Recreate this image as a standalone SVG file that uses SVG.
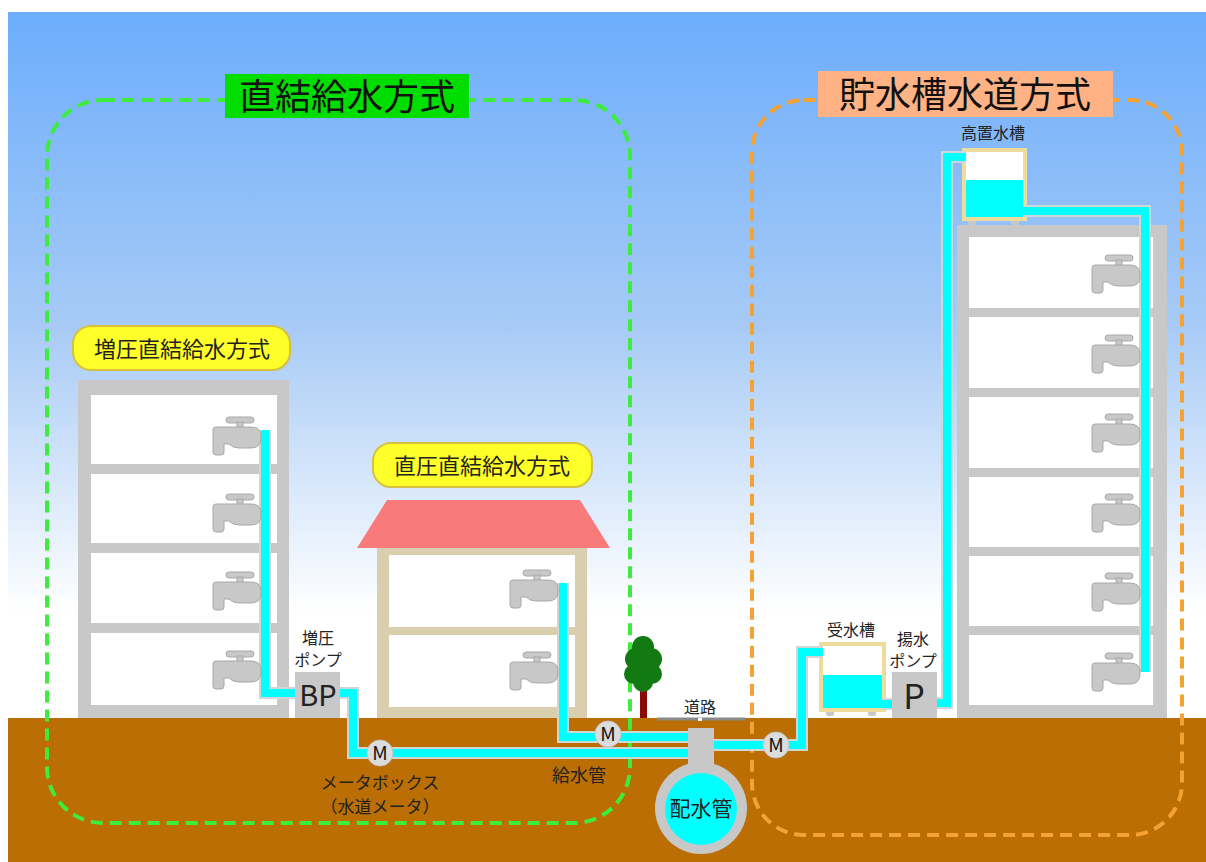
<svg xmlns="http://www.w3.org/2000/svg" xmlns:xlink="http://www.w3.org/1999/xlink" width="1206" height="862" viewBox="0 0 1206 862">
  <defs>
    <linearGradient id="sky" x1="0" y1="0" x2="0" y2="1">
      <stop offset="0" stop-color="#6cadfc"/>
      <stop offset="0.45" stop-color="#a8cbf6"/>
      <stop offset="0.85" stop-color="#ffffff"/>
    </linearGradient>
    <!-- tap: right edge of the body sits at x=48 -->
    <g id="tap">
      <rect x="13" y="0" width="28" height="6" rx="3" class="tapfill"/>
      <rect x="24" y="5" width="6" height="6" class="tapfill"/>
      <path class="tapfill" d="M3,10 H38 Q48,10 48,19 V21 Q48,31 38,31 H26 Q20,31 16,27 H11 V35 Q11,38 8,38 H3 Q0,38 0,35 V13 Q0,10 3,10 Z"/>
    </g>
    <g id="legs">
      <rect x="0" y="0" width="8" height="6" rx="2" fill="#c8c8c8"/>
    </g>
  </defs>
  <style>
    text { font-family: "Noto Sans CJK JP", "Noto Sans", sans-serif; fill: #222; }
    .title { font-size: 36px; fill: #111; text-anchor: middle; }
    .label { font-size: 16px; text-anchor: middle; }
    .tag { font-size: 22px; text-anchor: middle; }
    .tapfill { fill: #c8c8c8; stroke: #a8a8a8; stroke-width: 1; }
    .gray { fill: #c8c8c8; }
    .room { fill: #ffffff; }
    .pipe-o { fill: none; stroke: #cfd6d6; stroke-width: 12; stroke-linejoin: miter; }
    .pipe-i { fill: none; stroke: #00ffff; stroke-width: 8; stroke-linejoin: miter; }
    .meter circle { fill: #dcdcdc; stroke: #c4c4c4; stroke-width: 1; }
    .meter text { font-size: 19px; text-anchor: middle; fill: #111; }
    .tagbox { fill: #ffff2a; stroke: #d6c040; stroke-width: 2; }
    .tank { fill: #ffffff; stroke: #eedc9c; stroke-width: 4; }
    .water { fill: #00ffff; }
  </style>

  <!-- background -->
  <rect x="0" y="0" width="1206" height="862" fill="#ffffff"/>
  <rect x="8" y="12" width="1198" height="706" fill="url(#sky)"/>
  <rect x="8" y="718" width="1198" height="144" fill="#bb6e04"/>

  <!-- system outlines -->
  <g id="outlines" fill="none" stroke-width="4" stroke-dasharray="12 7">
    <rect x="47" y="100" width="583" height="723" rx="56" stroke="#3dec3d"/>
    <rect x="752" y="100" width="430" height="735" rx="52" stroke="#f4a234"/>
  </g>

  <!-- booster-pump building -->
  <g id="building-left">
    <rect class="gray" x="78" y="380" width="211" height="338"/>
    <rect class="room" x="91" y="395" width="186" height="69"/>
    <rect class="room" x="91" y="474" width="186" height="69"/>
    <rect class="room" x="91" y="553" width="186" height="70"/>
    <rect class="room" x="91" y="633" width="186" height="72"/>
  </g>

  <!-- house -->
  <g id="house">
    <polygon points="387,500 580,500 610,548 357,548" fill="#f87a7a"/>
    <rect x="377" y="548" width="210" height="170" fill="#d9cfae"/>
    <rect class="room" x="389" y="555" width="186" height="72"/>
    <rect class="room" x="389" y="635" width="186" height="72"/>
  </g>

  <!-- tall building -->
  <g id="building-right">
    <rect class="gray" x="957" y="225" width="210" height="493"/>
    <rect class="room" x="969" y="237" width="184" height="71"/>
    <rect class="room" x="969" y="317" width="184" height="71"/>
    <rect class="room" x="969" y="397" width="184" height="71"/>
    <rect class="room" x="969" y="477" width="184" height="70"/>
    <rect class="room" x="969" y="556" width="184" height="70"/>
    <rect class="room" x="969" y="635" width="184" height="70"/>
  </g>

  <!-- elevated tank -->
  <g id="elevated-tank">
    <use href="#legs" x="968" y="219"/>
    <use href="#legs" x="1011" y="219"/>
    <rect class="tank" x="964" y="150" width="61" height="69"/>
    <rect class="water" x="966" y="180" width="57" height="37"/>
  </g>

  <!-- receiving tank -->
  <g id="receiving-tank">
    <use href="#legs" x="826" y="710"/>
    <use href="#legs" x="868" y="710"/>
    <rect class="tank" x="821" y="644" width="63" height="66"/>
    <rect class="water" x="823" y="675" width="59" height="33"/>
  </g>

  <!-- tree -->
  <g id="tree">
    <rect x="640" y="688" width="7" height="30" fill="#8a0a0a"/>
    <g fill="#137a13">
      <circle cx="643" cy="647" r="11"/>
      <circle cx="636" cy="659" r="11"/>
      <circle cx="651" cy="659" r="11"/>
      <circle cx="634" cy="674" r="10"/>
      <circle cx="652" cy="674" r="10"/>
      <circle cx="643" cy="682" r="10"/>
      <circle cx="643" cy="666" r="12"/>
    </g>
  </g>

  <!-- road -->
  <g id="road">
    <line x1="657" y1="719" x2="745" y2="719" stroke="#8a8a8a" stroke-width="3"/>
    <rect x="698" y="718" width="4" height="3" fill="#ffffff"/>
    <text class="label" x="700" y="713">道路</text>
  </g>

  <!-- connectors: water pipes -->
  <g id="pipes">
    <path class="pipe-o" d="M265,430 V693 H297"/>
    <path class="pipe-o" d="M338,693 H353 V753 H692"/>
    <path class="pipe-o" d="M563,583 V737 H692"/>
    <path class="pipe-o" d="M712,745 H802 V652 H823"/>
    <path class="pipe-o" d="M882,704 H894"/>
    <path class="pipe-o" d="M935,703 H947 V157 H966"/>
    <path class="pipe-o" d="M1023,211 H1145 V672"/>
    <path class="pipe-i" d="M265,430 V693 H297"/>
    <path class="pipe-i" d="M338,693 H353 V753 H692"/>
    <path class="pipe-i" d="M563,583 V737 H692"/>
    <path class="pipe-i" d="M712,745 H802 V652 H823"/>
    <path class="pipe-i" d="M882,704 H894"/>
    <path class="pipe-i" d="M935,703 H947 V157 H966"/>
    <path class="pipe-i" d="M1023,211 H1145 V672"/>
  </g>

  <!-- taps -->
  <g id="taps-left">
    <use href="#tap" x="213" y="417"/>
    <use href="#tap" x="213" y="494"/>
    <use href="#tap" x="213" y="572"/>
    <use href="#tap" x="213" y="651"/>
  </g>
  <g id="taps-house">
    <use href="#tap" x="510" y="570"/>
    <use href="#tap" x="510" y="652"/>
  </g>
  <g id="taps-right">
    <use href="#tap" x="1092" y="255"/>
    <use href="#tap" x="1092" y="335"/>
    <use href="#tap" x="1092" y="414"/>
    <use href="#tap" x="1092" y="494"/>
    <use href="#tap" x="1092" y="573"/>
    <use href="#tap" x="1092" y="653"/>
  </g>

  <!-- booster pump -->
  <g id="booster-pump">
    <rect class="gray" x="295" y="672" width="45" height="46"/>
    <text x="318" y="706" font-size="29" text-anchor="middle" fill="#111">BP</text>
    <text class="label" x="318" y="644">増圧</text>
    <text class="label" x="318" y="666">ポンプ</text>
  </g>

  <!-- lift pump -->
  <g id="lift-pump">
    <rect class="gray" x="892" y="672" width="45" height="46"/>
    <text x="914" y="709" font-size="34" text-anchor="middle" fill="#111">P</text>
    <text class="label" x="913" y="645">揚水</text>
    <text class="label" x="913" y="667">ポンプ</text>
  </g>

  <!-- water main -->
  <g id="water-main">
    <rect class="gray" x="688" y="728" width="26" height="50"/>
    <circle cx="701" cy="808" r="46" fill="#c8c8c8"/>
    <circle cx="701" cy="809" r="36" fill="#00ffff"/>
    <text x="701" y="816" font-size="21" text-anchor="middle">配水管</text>
  </g>

  <!-- meters -->
  <g id="meter-1" class="meter">
    <circle cx="380" cy="753" r="13"/>
    <text x="380" y="760">M</text>
  </g>
  <g id="meter-2" class="meter">
    <circle cx="608" cy="734" r="13"/>
    <text x="608" y="741">M</text>
  </g>
  <g id="meter-3" class="meter">
    <circle cx="776" cy="745" r="13"/>
    <text x="776" y="752">M</text>
  </g>

  <!-- labels -->
  <g id="labels">
    <text x="380" y="789" font-size="17" text-anchor="middle">メータボックス</text>
    <text x="380" y="813" font-size="17" text-anchor="middle">（水道メータ）</text>
    <text x="579" y="782" font-size="18" text-anchor="middle">給水管</text>
    <text class="label" x="993" y="139">高置水槽</text>
    <text class="label" x="851" y="636">受水槽</text>
  </g>

  <g id="tag-booster">
    <rect class="tagbox" x="73" y="326" width="217" height="44" rx="18"/>
    <text class="tag" x="182" y="357">増圧直結給水方式</text>
  </g>
  <g id="tag-direct">
    <rect class="tagbox" x="373" y="443" width="219" height="44" rx="18"/>
    <text class="tag" x="482" y="474">直圧直結給水方式</text>
  </g>

  <g id="title-direct">
    <rect x="225" y="74" width="244" height="44" fill="#00dd00"/>
    <text class="title" x="347" y="110">直結給水方式</text>
  </g>
  <g id="title-tank">
    <rect x="818" y="71" width="295" height="46" fill="#ffb384"/>
    <text class="title" x="965" y="108">貯水槽水道方式</text>
  </g>
</svg>
